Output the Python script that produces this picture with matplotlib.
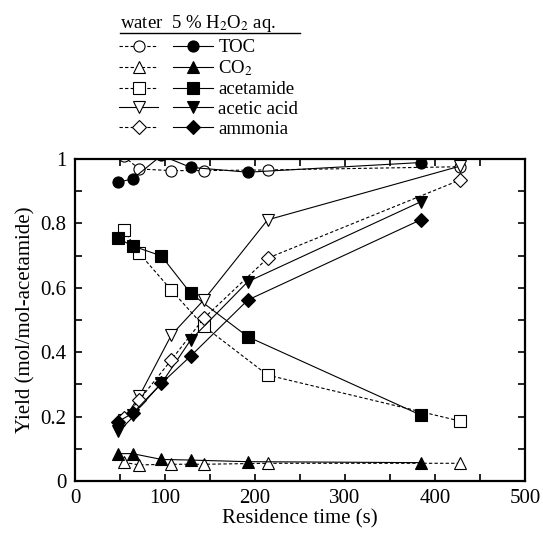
import matplotlib
matplotlib.use('Agg')
import matplotlib.pyplot as plt
from matplotlib.lines import Line2D
from matplotlib.legend_handler import HandlerTuple
from matplotlib.ticker import MultipleLocator, FormatStrFormatter

plt.rcParams['font.family'] = ['Liberation Serif', 'DejaVu Serif']
plt.rcParams['mathtext.fontset'] = 'stix'

# residence times (s)
t_water = [54, 71.5, 107, 143, 214, 428]
t_h2o2 = [47.5, 64, 96, 128.5, 192, 384]

# yields, water
toc_w = [1.008, 0.969, 0.964, 0.964, 0.966, 0.976]
co2_w = [0.058, 0.050, 0.052, 0.052, 0.055, 0.055]
amide_w = [0.780, 0.707, 0.593, 0.481, 0.329, 0.186]
acetic_w = [0.190, 0.264, 0.453, 0.562, 0.811, 0.978]
ammonia_w = [0.195, 0.252, 0.376, 0.505, 0.692, 0.935]

# yields, 5 % H2O2 aq.
toc_h = [0.928, 0.938, 1.011, 0.974, 0.959, 0.989]
co2_h = [0.085, 0.085, 0.067, 0.065, 0.060, 0.057]
amide_h = [0.754, 0.730, 0.699, 0.583, 0.448, 0.205]
acetic_h = [0.156, 0.205, 0.303, 0.438, 0.619, 0.867]
ammonia_h = [0.184, 0.210, 0.303, 0.388, 0.562, 0.811]

labels = ['TOC', 'CO$_2$', 'acetamide', 'acetic acid', 'ammonia']
markers = ['o', '^', 's', 'v', 'D']
msizes = [8, 9, 8, 9, 7.5]
water_styles = ['--', '--', '--', '-', '--']
water_data = [toc_w, co2_w, amide_w, acetic_w, ammonia_w]
h2o2_data = [toc_h, co2_h, amide_h, acetic_h, ammonia_h]

fig = plt.figure(figsize=(5.43, 5.33), dpi=100)
ax = fig.add_axes([75 / 543, 1 - 481 / 533, 450 / 543, 322 / 533])

handles = []
for yw, yh, m, ms, ls in zip(water_data, h2o2_data, markers, msizes, water_styles):
    lw, = ax.plot(t_water, yw, ls=ls, dashes=(3, 2) if ls == '--' else (None, None),
                  color='black', lw=0.8, marker=m, ms=ms, mfc='white', mec='black', mew=0.8)
    lh, = ax.plot(t_h2o2, yh, ls='-', color='black', lw=0.8, marker=m, ms=ms,
                  mfc='black', mec='black', mew=0.8)
    handles.append((lw, lh))

ax.set_xlim(0, 500)
ax.set_ylim(0, 1)
ax.xaxis.set_major_locator(MultipleLocator(100))
ax.xaxis.set_minor_locator(MultipleLocator(50))
ax.yaxis.set_major_locator(MultipleLocator(0.2))
ax.yaxis.set_minor_locator(MultipleLocator(0.1))
ax.yaxis.set_major_formatter(FormatStrFormatter('%g'))
ax.tick_params(which='both', direction='in', top=True, right=True, labelsize=15, width=1.2)
ax.tick_params(which='major', length=5, pad=6)
ax.tick_params(which='minor', length=5)
for s in ax.spines.values():
    s.set_linewidth(1.6)

ax.set_xlabel('Residence time (s)', fontsize=15, labelpad=1)
ax.set_ylabel('Yield (mol/mol-acetamide)', fontsize=15, labelpad=4)

leg = ax.legend(handles, labels, handler_map={tuple: HandlerTuple(ndivide=None, pad=0.8)},
                loc='upper left', bbox_to_anchor=(119 / 543, 1 - 39 / 533),
                bbox_transform=fig.transFigure, frameon=False, borderpad=0, borderaxespad=0,
                numpoints=1, handlelength=5.0, handletextpad=0.3, labelspacing=0.14,
                fontsize=13.5)

# legend header with underline
fig.text(120 / 543, 1 - 23 / 533, 'water  5 % H$_2$O$_2$ aq.', fontsize=13.5,
         ha='left', va='center')
fig.add_artist(Line2D([120 / 543, 300 / 543], [1 - 33 / 533] * 2, color='black', lw=1.0,
                      transform=fig.transFigure))

fig.savefig('out.png', dpi=100)
